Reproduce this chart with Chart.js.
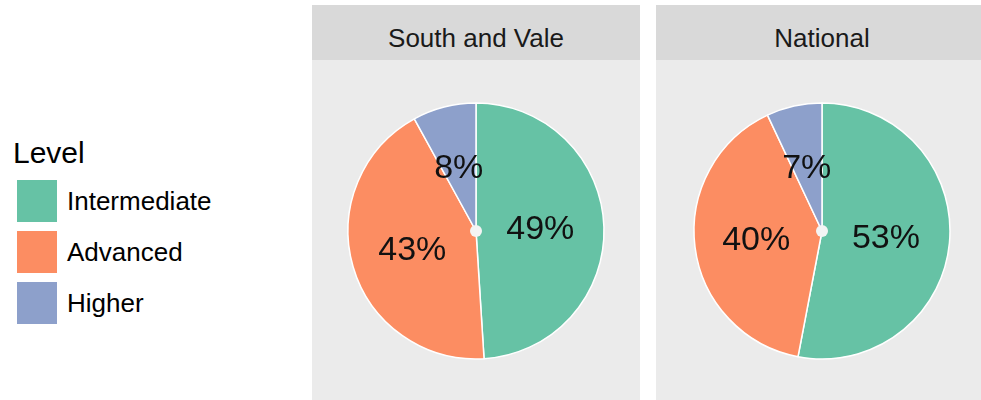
<!DOCTYPE html>
<html>
<head>
<meta charset="utf-8">
<script src="https://cdn.jsdelivr.net/npm/chart.js@4.4.1/dist/chart.umd.min.js"></script>
<style>
  html, body { margin: 0; padding: 0; background: #fff; }
  body { width: 981px; height: 400px; position: relative; overflow: hidden;
         font-family: "Liberation Sans", Arial, sans-serif; }
  .strip { position: absolute; top: 5px; height: 55px; background: #D9D9D9;
           box-sizing: border-box; padding-top: 20px; line-height: 26px;
           font-size: 26px; color: #1A1A1A; text-align: center; }
  .panel { position: absolute; top: 60px; height: 340px; background: #EBEBEB; }
  .panel canvas { display: block; }
  #legendTitle { position: absolute; left: 13px; top: 138px; font-size: 30px;
                 line-height: 30px; color: #000; }
  #legend { position: absolute; left: 16px; top: 179px; }
  .row { display: flex; align-items: center; height: 44px; margin-bottom: 7px; }
  .key { width: 42px; height: 44px; box-sizing: border-box; border: 1px solid #fff; margin-right: 9px; }
  .lbl { font-size: 26px; color: #000; }
</style>
</head>
<body>
<div id="legendTitle">Level</div>
<div id="legend"></div>

<div class="strip" style="left:312px;width:328px">South and Vale</div>
<div class="panel" style="left:312px;width:328px"><canvas id="pie1" width="328" height="340"></canvas></div>

<div class="strip" style="left:656px;width:332px">National</div>
<div class="panel" style="left:656px;width:332px"><canvas id="pie2" width="332" height="340"></canvas></div>

<script>
// categories and values
const levels = ['Intermediate', 'Advanced', 'Higher'];
const southVale = [49, 43, 8];
const national = [53, 40, 7];
const levelColors = ['#66C2A5', '#FC8D62', '#8DA0CB'];

// html legend built from the same arrays
const legendEl = document.getElementById('legend');
levels.forEach((name, i) => {
  const row = document.createElement('div');
  row.className = 'row';
  row.innerHTML = '<div class="key" style="background:' + levelColors[i] + '"></div>' +
                  '<span class="lbl">' + name + '</span>';
  legendEl.appendChild(row);
});

// percent labels at half radius + white dot in the middle
const pieLabels = {
  id: 'pieLabels',
  afterDatasetsDraw(chart) {
    const ctx = chart.ctx;
    const meta = chart.getDatasetMeta(0);
    const values = chart.data.datasets[0].data;
    ctx.save();
    ctx.font = '34px "Liberation Sans", Arial, sans-serif';
    ctx.fillStyle = '#111';
    ctx.textAlign = 'center';
    ctx.textBaseline = 'middle';
    meta.data.forEach((arc, i) => {
      const p = arc.getProps(['x', 'y', 'startAngle', 'endAngle', 'outerRadius'], true);
      const mid = (p.startAngle + p.endAngle) / 2;
      const r = p.outerRadius * 0.51;
      ctx.fillText(values[i] + '%', p.x + Math.cos(mid) * r - 1, p.y + Math.sin(mid) * r + 1);
    });
    const c = meta.data[0];
    ctx.beginPath();
    ctx.fillStyle = '#F4F4F4';
    ctx.arc(c.x, c.y, 6, 0, Math.PI * 2);
    ctx.fill();
    ctx.restore();
  }
};

function makePie(id, values) {
  new Chart(document.getElementById(id), {
    type: 'pie',
    data: {
      labels: levels,
      datasets: [{
        data: values,
        backgroundColor: levelColors,
        borderColor: '#ffffff',
        borderWidth: 1.5
      }]
    },
    options: {
      responsive: false,
      animation: false,
      radius: 128,
      layout: { padding: { top: 2 } },
      plugins: {
        legend: { display: false },
        tooltip: { enabled: false }
      }
    },
    plugins: [pieLabels]
  });
}

makePie('pie1', southVale);
makePie('pie2', national);
</script>
</body>
</html>
